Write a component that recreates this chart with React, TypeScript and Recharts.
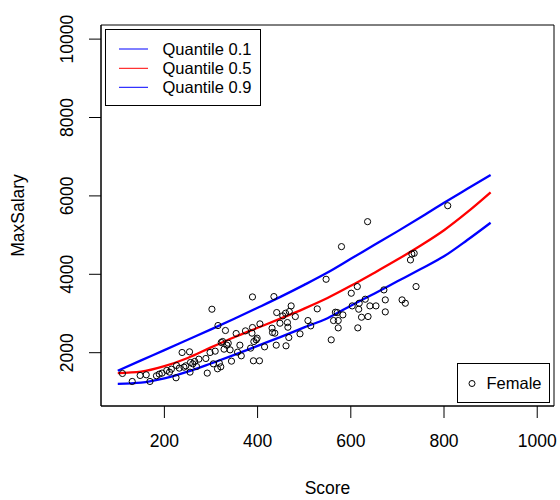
import React from 'react';
import { ComposedChart, XAxis, YAxis, Scatter, Line, ReferenceArea, Legend, Label } from 'recharts';

const scoreValues = [
  110, 131, 148, 161, 169, 183, 189, 195, 205, 211,
  215, 225, 226, 232, 238, 242, 246, 254, 255, 256,
  261, 265, 269, 274, 289, 292, 298, 302, 305, 309,
  314, 315, 318, 321, 322, 325, 328, 331, 334, 337,
  341, 344, 354, 357, 362, 365, 374, 385, 388, 389,
  389, 391, 392, 397, 399, 404, 405, 415, 431, 432,
  435, 437, 440, 441, 448, 454, 460, 461, 464, 465,
  467, 468, 472, 481, 491, 508, 514, 528, 547,
  558, 563, 567, 571, 573, 573, 580, 583, 601, 603,
  614, 615, 617, 618, 623, 631, 636, 637, 641, 654,
  671, 674, 674, 710, 717, 728, 731, 736, 740, 808,
];
const salaryValues = [
  1470, 1266, 1419, 1436, 1266, 1411, 1453, 1479, 1546, 1504,
  1580, 1360, 1674, 1606, 2005, 1631, 1665, 2022, 1504, 1750,
  1716, 1776, 1648, 1835, 1852, 1479, 2005, 3109, 1716, 2039,
  1589, 2693, 1733, 1640, 2260, 2285, 2090, 2566, 2192, 2243,
  2073, 1784, 2489, 2014, 2192, 1920, 2557, 2116, 2498, 3423,
  2642, 1793, 2285, 2328, 2370, 1793, 2735, 2149, 2625, 2515,
  3432, 2498, 2192, 3024, 2752, 2939, 3007, 2175, 2769, 2650,
  2387, 3050, 3194, 2922, 2481, 2820, 2684, 3118, 3873,
  2328, 2820, 3033, 3024, 2820, 2633, 4706, 2965, 3517, 3194,
  3687, 2633, 3109, 3262, 2905, 3364, 5343, 2922, 3194, 3194,
  3602, 3347, 3041, 3347, 3262, 4366, 4519, 4536, 3687, 5750,
];

const curveScores = [100, 150, 200, 250, 300, 350, 400, 450, 500, 550, 600, 650, 700, 750, 800, 850, 900];
const q10Values = [1207, 1235, 1345, 1515, 1725, 1945, 2175, 2405, 2645, 2880, 3200, 3505, 3820, 4135, 4460, 4875, 5316];
const q50Values = [1479, 1515, 1655, 1865, 2135, 2395, 2635, 2875, 3125, 3395, 3705, 4035, 4375, 4735, 5125, 5585, 6091];
const q90Values = [1540, 1805, 2065, 2330, 2595, 2865, 3145, 3430, 3730, 4045, 4395, 4745, 5095, 5455, 5825, 6180, 6535];

const xTicks = [200, 400, 600, 800, 1000];
const yTicks = [2000, 4000, 6000, 8000, 10000];
const xDomain = [64, 1036];
const yDomain = [640, 10360];
const quantileLabels = ['Quantile 0.1', 'Quantile 0.5', 'Quantile 0.9'];
const quantileColors = ['#0000ff', '#ff0000', '#0000ff'];
const pointLabel = 'Female';
const xTitle = 'Score';
const yTitle = 'MaxSalary';

const FONT = '"Liberation Sans", Arial, Helvetica, sans-serif';

const points = scoreValues.map((x, i) => ({ x, y: salaryValues[i] }));
const q10Data = curveScores.map((x, i) => ({ x, y: q10Values[i] }));
const q50Data = curveScores.map((x, i) => ({ x, y: q50Values[i] }));
const q90Data = curveScores.map((x, i) => ({ x, y: q90Values[i] }));

const OpenCircle = (props: any) => {
  const { cx, cy } = props;
  if (cx == null || cy == null) return null;
  return <circle cx={cx} cy={cy} r={3.1} fill="none" stroke="#000" strokeWidth={1} />;
};

const XTick = (props: any) => {
  const { x, payload } = props;
  return (
    <text x={x} y={447} textAnchor="middle" fontSize={17.5} fontFamily={FONT} fill="#000">
      {payload.value}
    </text>
  );
};

const YTick = (props: any) => {
  const { y, payload } = props;
  const bx = 73;
  return (
    <text
      x={bx}
      y={y}
      transform={`rotate(-90, ${bx}, ${y})`}
      textAnchor="middle"
      fontSize={17.5}
      fontFamily={FONT}
      fill="#000"
    >
      {payload.value}
    </text>
  );
};

const LegendOverlay = () => {
  const rows = [49, 68.3, 87.3];
  return (
    <svg width={560} height={500} style={{ position: 'absolute', left: 0, top: 0 }}>
      <rect x={105.5} y={29.5} width={155} height={76} fill="#fff" stroke="#000" strokeWidth={1} />
      {quantileLabels.map((lab, i) => (
        <g key={lab}>
          <line x1={119} x2={148} y1={rows[i]} y2={rows[i]} stroke={quantileColors[i]} strokeWidth={1} />
          <text x={162.5} y={rows[i] + 5.9} fontSize={16.5} fontFamily={FONT} fill="#000">
            {lab}
          </text>
        </g>
      ))}
      <rect x={457.5} y={363.5} width={92} height={39} fill="#fff" stroke="#000" strokeWidth={1} />
      <circle cx={472} cy={383.5} r={3} fill="none" stroke="#000" strokeWidth={1} />
      <text x={486.5} y={389.4} fontSize={16.5} fontFamily={FONT} fill="#000">
        {pointLabel}
      </text>
    </svg>
  );
};

export default function App() {
  return (
    <div style={{ position: 'absolute', left: 0, top: 0, width: 560, height: 500, background: '#fff' }}>
      <ComposedChart
        width={560}
        height={500}
        margin={{ top: 25, right: 6, bottom: 0, left: 0 }}
        style={{ fontFamily: FONT }}
      >
        <XAxis
          type="number"
          dataKey="x"
          domain={xDomain}
          ticks={xTicks}
          allowDataOverflow
          height={94}
          tickSize={12}
          tickMargin={0}
          axisLine={{ stroke: '#000', strokeWidth: 1 }}
          tickLine={{ stroke: '#000', strokeWidth: 1 }}
          tick={<XTick />}
          interval={0}
        >
          <Label
            content={() => (
              <text x={327.5} y={494} textAnchor="middle" fontSize={17.5} fontFamily={FONT} fill="#000">
                {xTitle}
              </text>
            )}
          />
        </XAxis>
        <YAxis
          type="number"
          dataKey="y"
          domain={yDomain}
          ticks={yTicks}
          allowDataOverflow
          width={101}
          tickSize={12}
          tickMargin={0}
          axisLine={{ stroke: '#000', strokeWidth: 1 }}
          tickLine={{ stroke: '#000', strokeWidth: 1 }}
          tick={<YTick />}
          interval={0}
        >
          <Label
            content={() => (
              <text
                x={24}
                y={215.5}
                transform="rotate(-90, 24, 215.5)"
                textAnchor="middle"
                fontSize={17.5}
                fontFamily={FONT}
                fill="#000"
              >
                {yTitle}
              </text>
            )}
          />
        </YAxis>
        <ReferenceArea
          x1={xDomain[0]}
          x2={xDomain[1]}
          y1={yDomain[0]}
          y2={yDomain[1]}
          fill="none"
          fillOpacity={0}
          stroke="#000"
          strokeWidth={1}
          ifOverflow="visible"
        />
        <Scatter
          name={pointLabel}
          data={points}
          dataKey="y"
          shape={<OpenCircle />}
          isAnimationActive={false}
        />
        <Line
          name={quantileLabels[0]}
          data={q10Data}
          dataKey="y"
          type="monotone"
          stroke={quantileColors[0]}
          strokeWidth={2.3}
          dot={false}
          activeDot={false}
          isAnimationActive={false}
        />
        <Line
          name={quantileLabels[1]}
          data={q50Data}
          dataKey="y"
          type="monotone"
          stroke={quantileColors[1]}
          strokeWidth={2.3}
          dot={false}
          activeDot={false}
          isAnimationActive={false}
        />
        <Line
          name={quantileLabels[2]}
          data={q90Data}
          dataKey="y"
          type="monotone"
          stroke={quantileColors[2]}
          strokeWidth={2.3}
          dot={false}
          activeDot={false}
          isAnimationActive={false}
        />
        <Legend
          layout="horizontal"
          verticalAlign="middle"
          align="center"
          wrapperStyle={{ position: 'absolute', left: 0, top: 0, width: 560, height: 500, pointerEvents: 'none' }}
          content={() => <LegendOverlay />}
        />
      </ComposedChart>
    </div>
  );
}
